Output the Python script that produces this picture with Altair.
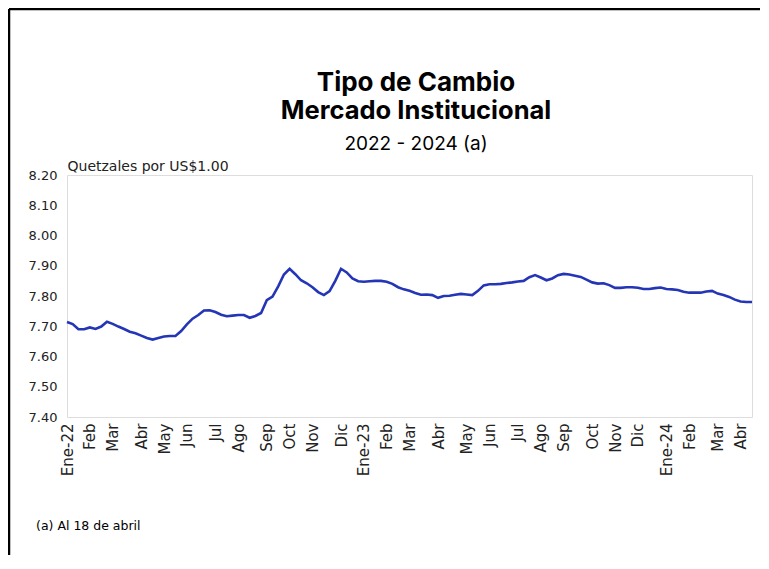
import altair as alt
import pandas as pd

# Weekly exchange rate readings (GTQ per USD), Jan-2022 .. 18-Apr-2024
RATES = [
    7.714, 7.707, 7.690, 7.690, 7.696, 7.691, 7.699, 7.715, 7.708, 7.699,
    7.691, 7.682, 7.677, 7.669, 7.661, 7.656, 7.661, 7.666, 7.668, 7.668,
    7.684, 7.706, 7.725, 7.737, 7.752, 7.753, 7.747, 7.738, 7.733, 7.735,
    7.737, 7.737, 7.728, 7.734, 7.744, 7.786, 7.798, 7.832, 7.871, 7.890,
    7.872, 7.852, 7.842, 7.829, 7.813, 7.803, 7.816, 7.850, 7.890, 7.878,
    7.858, 7.849, 7.847, 7.849, 7.850, 7.850, 7.847, 7.840, 7.829, 7.822,
    7.817, 7.810, 7.804, 7.805, 7.803, 7.794, 7.800, 7.801, 7.804, 7.807,
    7.805, 7.803, 7.817, 7.835, 7.839, 7.839, 7.840, 7.843, 7.845, 7.848,
    7.850, 7.862, 7.869, 7.861, 7.852, 7.858, 7.869, 7.873, 7.871, 7.867,
    7.863, 7.854, 7.845, 7.841, 7.842, 7.836, 7.827, 7.827, 7.829, 7.829,
    7.827, 7.823, 7.823, 7.826, 7.828, 7.823, 7.822, 7.820, 7.814, 7.811,
    7.811, 7.811, 7.815, 7.817, 7.808, 7.803, 7.797, 7.788, 7.782, 7.780,
    7.780,
]
WEEK = list(range(len(RATES)))

TICK_POS = [0, 4, 8, 13, 17, 21, 26, 30, 35, 39, 43, 48, 52, 56, 60, 65,
            70, 74, 79, 83, 87, 92, 96, 100, 105, 109, 114, 118]
TICK_LABELS = ["Ene-22", "Feb", "Mar", "Abr", "May", "Jun", "Jul", "Ago",
               "Sep", "Oct", "Nov", "Dic", "Ene-23", "Feb", "Mar", "Abr",
               "May", "Jun", "Jul", "Ago", "Sep", "Oct", "Nov", "Dic",
               "Ene-24", "Feb", "Mar", "Abr"]
Y_TICKS = [7.40, 7.50, 7.60, 7.70, 7.80, 7.90, 8.00, 8.10, 8.20]

TITLE_LINES = ["Tipo de Cambio", "Mercado Institucional"]
SUBTITLE = "2022 - 2024 (a)"
Y_TITLE = "Quetzales por US$1.00"
FOOTNOTE = "(a) Al 18 de abril"

FONT = "DejaVu Sans"

df = pd.DataFrame({"week": WEEK, "rate": RATES})

label_expr = (
    "[" + ",".join("'%s'" % t for t in TICK_LABELS) + "]"
    + "[indexof([" + ",".join(str(p) for p in TICK_POS) + "], datum.value)]"
)

W, H = 685, 242
PAD = {"left": 59, "top": 167, "right": 8, "bottom": 138}

line = alt.Chart(df).mark_line(color="#2436b6", strokeWidth=2.6).encode(
    x=alt.X("week:Q",
            scale=alt.Scale(domain=[0, len(RATES) - 1], nice=False, zero=False),
            axis=alt.Axis(values=TICK_POS, labelExpr=label_expr, labelAngle=270,
                          ticks=False, domain=False, grid=False, labelPadding=6,
                          labelFont=FONT, labelFontSize=15, labelColor="#222",
                          labelOverlap=False, title=None)),
    y=alt.Y("rate:Q",
            scale=alt.Scale(domain=[7.40, 8.20], nice=False, zero=False),
            axis=alt.Axis(values=Y_TICKS, format=".2f", ticks=False, domain=False,
                          grid=False, labelPadding=10, labelFont=FONT,
                          labelFontSize=13, labelColor="#222",
                          title=Y_TITLE, titleAngle=0, titleAlign="left",
                          titleBaseline="alphabetic", titleX=0, titleY=-5,
                          titleFont=FONT, titleFontSize=14, titleFontWeight="normal",
                          titleColor="#222")),
)


def text_layer(txt, x, y, size, weight="normal", font=FONT, align="left"):
    return alt.Chart(pd.DataFrame({"t": [txt]})).mark_text(
        align=align, baseline="alphabetic", font=font, fontSize=size,
        fontWeight=weight, color="#000"
    ).encode(text="t:N", x=alt.value(x), y=alt.value(y))


title1 = text_layer(TITLE_LINES[0], 349, -84, 26, "bold", "Inter", "center")
title2 = text_layer(TITLE_LINES[1], 349, -56, 25.5, "bold", "Inter", "center")
subtitle = text_layer(SUBTITLE, 349, -25, 19, "normal", "Inter", "center")
note = text_layer(FOOTNOTE, -31, 355, 12.5)

border_top = alt.Chart(pd.DataFrame({"a": [0]})).mark_rule(
    color="#000", strokeWidth=2.5
).encode(x=alt.value(-58), x2=alt.value(W + PAD["right"]), y=alt.value(-166))

border_left = alt.Chart(pd.DataFrame({"a": [0]})).mark_rule(
    color="#000", strokeWidth=2.5
).encode(x=alt.value(-58), y=alt.value(-166), y2=alt.value(H + PAD["bottom"]))

chart = alt.layer(line, title1, title2, subtitle, note, border_top, border_left).properties(
    width=W, height=H,
    autosize=alt.AutoSizeParams(type="none"),
    padding=PAD,
).configure_view(stroke="#7f7f7f", strokeWidth=1.8).configure(background="white")

chart.save("out.html", embed_options={"renderer": "svg", "actions": False})
